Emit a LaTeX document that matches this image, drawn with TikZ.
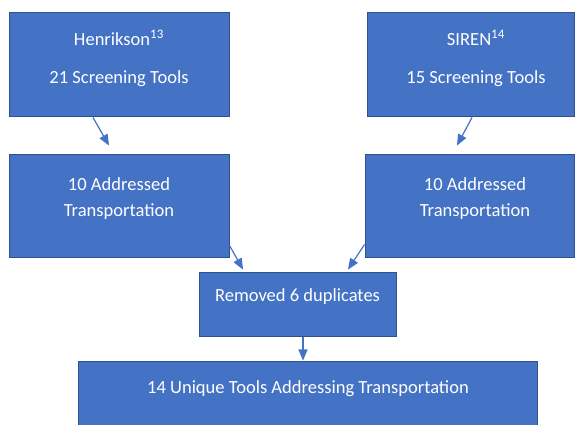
\documentclass[tikz,border=0pt]{standalone}
\usepackage{fontspec}
\setmainfont{Carlito}
\usetikzlibrary{arrows,calc}
\definecolor{boxblue}{HTML}{4472C4}
\definecolor{boxedge}{HTML}{2F528F}
\tikzset{
  box/.style={draw=boxedge,fill=boxblue,line width=0.75pt,inner sep=0pt},
  txt/.style={text=white,align=center,font=\fontsize{13.9}{19.5}\selectfont},
  flow/.style={->,draw=boxblue,line width=0.9pt}
}
\begin{document}
\begin{tikzpicture}[x=0.75pt,y=-0.75pt,>=triangle 45]
\useasboundingbox (0,0) rectangle (577,424);
\clip (0,0) rectangle (577,424);
\fill[white] (0,0) rectangle (577,424);
% sources
\node[box,minimum width=165pt,minimum height=78pt] (henr) at (119,65) {};
\node[box,minimum width=155.25pt,minimum height=78pt] (siren) at (470.5,65) {};
\node[txt] (henrT) at (119,58) {Henrikson\textsuperscript{13}\\[9pt]21 Screening Tools};
\node[txt] (sirenT) at (476,58) {SIREN\textsuperscript{14}\\[9pt]15 Screening Tools};
% transportation
\node[box,minimum width=165pt,minimum height=77.25pt] (addrA) at (119,205.5) {};
\node[box,minimum width=156.75pt,minimum height=77.25pt] (addrB) at (469.5,205.5) {};
\node[txt] (addrAT) at (119,199) {10 Addressed\\Transportation};
\node[txt] (addrBT) at (475,199) {10 Addressed\\Transportation};
% merge
\node[box,minimum width=147.75pt,minimum height=48pt] (dup) at (297.5,304) {};
\node[txt] (dupT) at (297.5,297) {Removed 6 duplicates};
\node[box,overlay,minimum width=344.25pt,minimum height=48.75pt] (uniq) at (307.5,393.5) {};
\node[txt] (uniqT) at (308,389) {14 Unique Tools Addressing Transportation};
\draw[flow] ($(henr.south)+(-26,0)$) -- ($(addrA.north)+(-10,-8)$);
\draw[flow] ($(siren.south)+(1.5,0)$) -- ($(addrB.north)+(-12.5,-8)$);
\draw[flow] ($(addrA.south east)+(0,-12)$) -- ($(dup.north)+(-54.5,-2)$);
\draw[flow] ($(addrB.south west)+(0,-13)$) -- ($(dup.north)+(50.5,-2)$);
\draw[flow] ($(dup.south)+(5.5,0)$) -- ($(uniq.north)+(-4.5,0)$);
\end{tikzpicture}
\end{document}
